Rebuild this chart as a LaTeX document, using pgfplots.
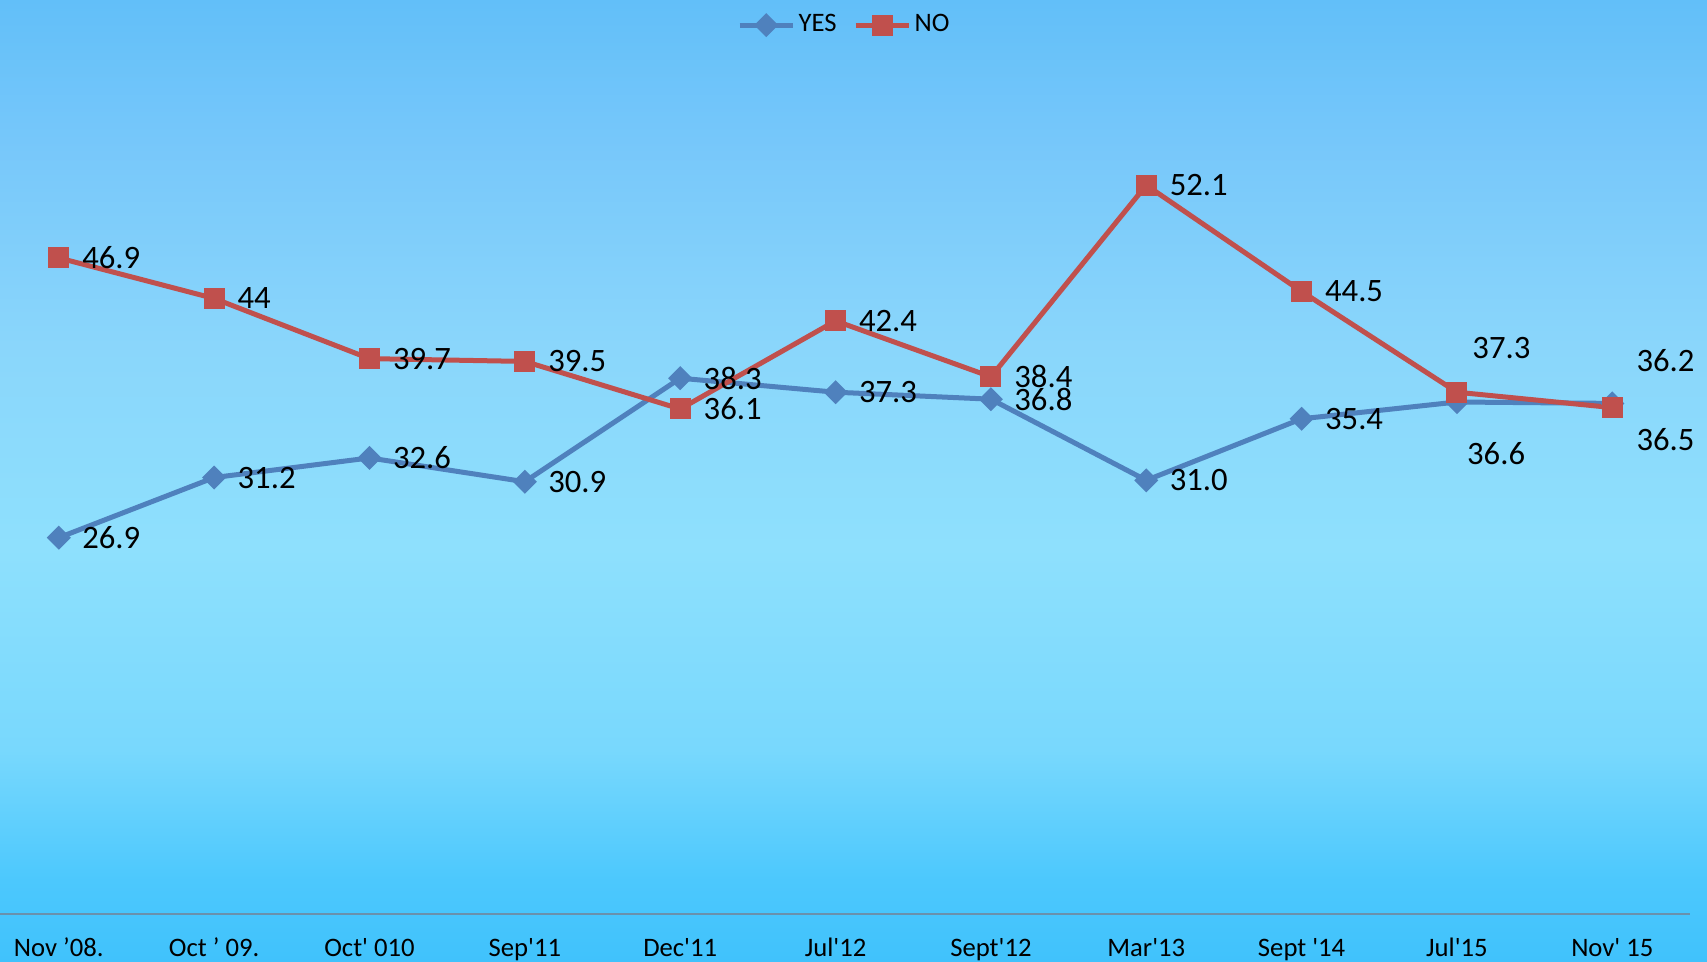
\documentclass[border=0pt]{standalone}
\usepackage{fontspec}
\setmainfont{Carlito}
\newfontfamily\carl{Carlito}
\usepackage{pgfplots}
\usepackage{pgfplotstable}
\pgfplotsset{compat=1.18}
\definecolor{bg0}{HTML}{40C2FC}
\definecolor{bg1}{HTML}{4CC8FD}
\definecolor{bg2}{HTML}{78D8FD}
\definecolor{bg3}{HTML}{8EE0FD}
\definecolor{bg4}{HTML}{8AD6FB}
\definecolor{bg5}{HTML}{78C8FA}
\definecolor{bg6}{HTML}{62BFF9}
\definecolor{yescol}{HTML}{4F81BD}
\definecolor{nocol}{HTML}{C0504D}
\definecolor{axisgray}{RGB}{106,145,172}
\pgfdeclareverticalshading{bgshade}{100bp}{color(0bp)=(bg0); color(25bp)=(bg0); color(29.25bp)=(bg1); color(36bp)=(bg2); color(46.5bp)=(bg3); color(57bp)=(bg4); color(67bp)=(bg5); color(75bp)=(bg6); color(100bp)=(bg6)}
\pgfplotstableread{
x y label dx dy
0 26.9 26.9 6.8 0
1 31.2 31.2 6.8 0
2 32.6 32.6 6.8 0
3 30.9 30.9 6.8 0
4 38.3 38.3 6.8 0
5 37.3 37.3 6.8 0
6 36.8 36.8 6.8 0
7 31.0 31.0 6.8 0
8 35.4 35.4 6.8 0
9 36.6 36.6 2.8 -15.4
10 36.5 36.5 7.0 -10.8
}\yesdata
\pgfplotstableread{
x y label dx dy
0 46.9 46.9 6.8 0
1 44 44 6.8 0
2 39.7 39.7 6.8 0
3 39.5 39.5 6.8 0
4 36.1 36.1 6.8 0
5 42.4 42.4 6.8 0
6 38.4 38.4 6.8 0
7 52.1 52.1 6.8 0
8 44.5 44.5 6.8 0
9 37.3 37.3 4.4 13.4
10 36.2 36.2 7.0 14.0
}\nodata
\begin{document}
\begin{tikzpicture}
\shade[shading=bgshade] (0,0) rectangle (512.1pt,288.6pt);
\begin{axis}[
  at={(0pt,14.4pt)}, anchor=south west,
  scale only axis, width=507pt, height=251.8pt,
  xmin=-0.3785, xmax=10.50, ymin=0, ymax=60,
  clip=false,
  axis x line=bottom, axis y line=none,
  x axis line style={-, draw=axisgray, line width=0.7pt},
  xtick={0,...,10},
  xticklabels={Nov ’08.,Oct ’ 09.,Oct' 010,Sep'11,Dec'11,Jul'12,Sept'12,Mar'13,Sept '14,Jul'15,Nov' 15},
  major tick length=0pt, xtick style={draw=none},
  xticklabel style={font=\carl\fontsize{8}{9.6}\selectfont, anchor=base, yshift=-12.8pt, text=black},
  legend style={at={(axis description cs:0.5,1.059)}, anchor=center, draw=none, fill=none,
    font=\carl\fontsize{8}{9.6}\selectfont, legend columns=2,
    nodes={inner xsep=1pt},
    /tikz/every even column/.append style={column sep=4pt}},
  legend image code/.code={
    \draw[mark repeat=2,mark phase=2] plot coordinates {(0cm,0cm) (0.28cm,0cm) (0.56cm,0cm)};},
  point meta=explicit symbolic,
  visualization depends on={\thisrow{dx} \as \dx},
  visualization depends on={\thisrow{dy} \as \dy},
  nodes near coords,
  every node near coord/.append style={anchor=west, xshift=\dx pt, yshift=\dy pt, inner sep=0pt,
    text=black, font=\carl\fontsize{9.8}{11.5}\selectfont},
]
\addplot[yescol, line width=1.5pt, mark=square*, mark size=2.3pt, mark options={rotate=45, solid, fill=yescol, draw=yescol, line width=0.5pt}]
  table[x=x, y=y, meta=label] {\yesdata};
\addlegendentry{YES}
\addplot[nocol, line width=1.5pt, mark=square*, mark size=2.9pt, mark options={solid, fill=nocol, draw=nocol, line width=0.5pt}]
  table[x=x, y=y, meta=label] {\nodata};
\addlegendentry{NO}
\end{axis}
\pgfresetboundingbox
\useasboundingbox (0,0) rectangle (512.1pt,288.6pt);
\end{tikzpicture}
\end{document}
